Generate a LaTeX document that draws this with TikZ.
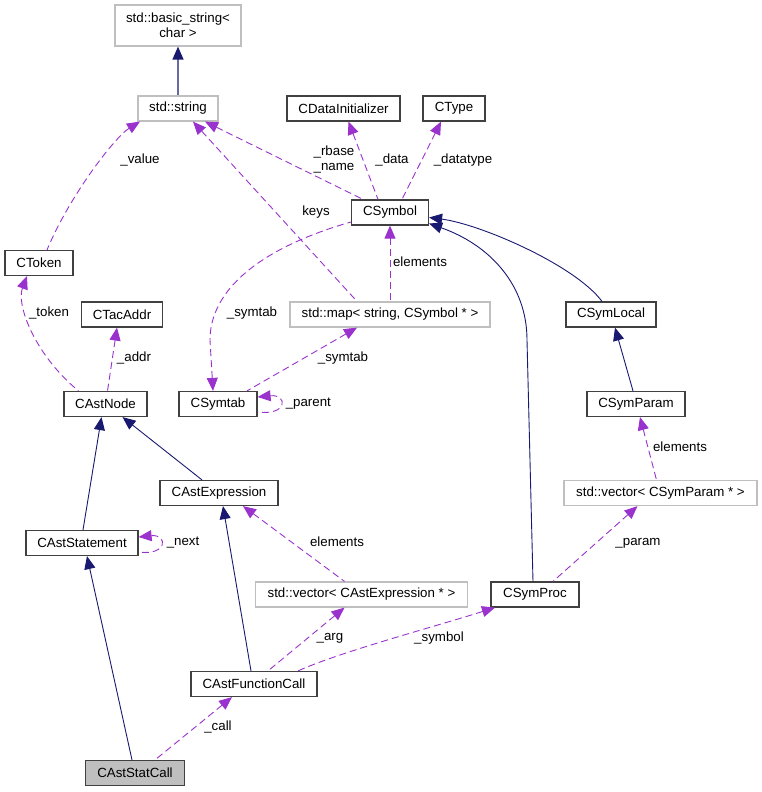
\documentclass[tikz,border=0pt]{standalone}
\usepackage{fontspec}
\setmainfont{Liberation Sans}
\usetikzlibrary{arrows.meta,positioning}
\definecolor{dxnavy}{HTML}{191970}
\definecolor{dxpurple}{HTML}{9A32CD}
\tikzset{box/.style={draw=black!75,line width=1.2pt,fill=white,minimum height=25pt,inner sep=0pt,font=\fontsize{13.3}{15}\selectfont},
  ext/.style={box,draw=black!25}}

\begin{document}
\begin{tikzpicture}[x=1pt,y=-1pt]
\tikzstyle{inh}=[dxnavy,line width=0.9pt,{Triangle[length=13pt,width=11pt]}-]
\tikzstyle{tmpl}=[dxnavy!65,line width=1.2pt,{Triangle[length=13pt,width=11pt,color=dxnavy]}-]
\tikzstyle{use}=[dxpurple,line width=0.9pt,dash pattern=on 7pt off 4pt,{Triangle[length=13pt,width=11pt]}-]
\tikzstyle{lbl}=[font=\fontsize{13.3}{15}\selectfont,inner sep=0pt,align=center]

\useasboundingbox (0,0) rectangle (762,792);

   \path (178,25.5) node[ext,minimum width=126pt,minimum height=41pt,align=center] (bstr) {std::basic\_string<\\char >}
    (178,108.5) node[ext,minimum width=80pt] (str) {std::string}
    (343.5,108.5) node[box,minimum width=113pt] (cdi) {CDataInitializer}
    (454,108.5) node[box,minimum width=62pt] (ctype) {CType}
    (390,212.5) node[box,minimum width=77pt] (sym) {CSymbol}
    (39,263) node[box,minimum width=68pt] (tok) {CToken}
    (122,314.5) node[box,minimum width=81pt] (tac) {CTacAddr}
    (390,314.5) node[ext,minimum width=200pt] (map) {std::map< string, CSymbol * >}
    (611,314.5) node[box,minimum width=90pt] (loc) {CSymLocal};

   \path (105.5,404) node[box,minimum width=83pt] (anode) {CAstNode}
    (218,404) node[box,minimum width=78pt] (stab) {CSymtab}
    (636,404) node[box,minimum width=98pt] (par) {CSymParam}
    (219,493) node[box,minimum width=118pt] (expr) {CAstExpression}
    (660.5,493) node[ext,minimum width=193pt] (vpar) {std::vector< CSymParam * >}
    (82,543) node[box,minimum width=112pt] (stmt) {CAstStatement}
    (361.5,594.5) node[ext,minimum width=212pt] (vexp) {std::vector< CAstExpression * >}
    (535,594.5) node[box,minimum width=88pt] (proc) {CSymProc}
    (254,684) node[box,minimum width=126pt] (fc) {CAstFunctionCall}
    (135,773) node[box,minimum width=99pt,fill=black!25] (call) {CAstStatCall};

    % inheritance
    \draw[tmpl] (bstr) -- (str);
    \draw[inh] ([yshift=-5pt]sym.east) .. controls (480,224) and (575,265) .. ([xshift=-9pt]loc.north);
    \draw[inh] ([yshift=-11pt]sym.east) .. controls (490,245) and (527,285) .. (527,340) -- ([xshift=-2pt]proc.north);
    \draw[inh] ([xshift=-4pt]anode.south) -- ([xshift=1pt]stmt.north);
    \draw[inh] ([xshift=17pt]anode.south) -- ([xshift=-17pt]expr.north);
    \draw[inh] ([xshift=4pt]loc.south) -- ([xshift=-3pt]par.north);
    \draw[inh] ([xshift=4pt]expr.south) -- ([xshift=-3pt]fc.north);
    \draw[inh] ([xshift=5pt]stmt.south) -- ([xshift=-3pt]call.north);

    % members
    \draw[use] ([xshift=-38pt]str.south) .. controls (115,137) and (70,195) .. ([xshift=8pt]tok.north);
    \draw[use] ([xshift=27pt]str.south) -- ([xshift=-27pt]sym.north);
    \draw[use] ([xshift=15pt]str.south) -- ([xshift=-33pt]map.north);
    \draw[use] ([xshift=5pt]cdi.south) -- ([xshift=-12pt]sym.north);
    \draw[use] ([xshift=-13pt]ctype.south) -- ([xshift=12pt]sym.north);
    \draw[use] ([xshift=-5pt]stab.north) -- (210,340) .. controls (210,290) and (260,248) .. ([yshift=-9.5pt]sym.west);
    \draw[use] (sym.south) -- (map.north);
    \draw[use] ([xshift=-33pt]map.south) -- ([xshift=29pt]stab.north);
    \draw[use] ([yshift=7pt]stab.east) .. controls (288,394) and (288,416) .. ([yshift=-8pt]stab.east);
    \draw[use] ([xshift=-12pt]tok.south) .. controls (16,305) and (35,355) .. ([xshift=-27pt]anode.north);
    \draw[use] ([xshift=-5pt]tac.south) -- ([xshift=2pt]anode.north);
    \draw[use] ([xshift=4pt]par.south) -- ([xshift=-4pt]vpar.north);
    \draw[use] ([yshift=6pt]stmt.east) .. controls (168,534) and (168,556) .. ([yshift=-9pt]stmt.east);
    \draw[use] ([xshift=24pt]expr.south) -- ([xshift=-17pt]vexp.north);
    \draw[use] ([xshift=-23pt]vpar.south) -- ([xshift=18pt]proc.north);
    \draw[use] ([xshift=-17pt]vexp.south) -- ([xshift=14pt]fc.north);
    \draw[use] ([xshift=-40pt]proc.south) .. controls (430,628) and (340,652) .. ([xshift=44pt]fc.north);
    \draw[use] ([xshift=-22pt]fc.south) -- ([xshift=20pt]call.north);

    \node[lbl] (lvalue) at (140,160) {\_value};
    \node[lbl] (lname) at (334,160) {\_rbase\\\_name};
    \node[lbl] (lkeys) at (316,212) {keys};
    \node[lbl] (ldata) at (392,160) {\_data};
    \node[lbl] (ltype) at (463,160) {\_datatype};
    \node[lbl] (lelem) at (420,262) {elements};
    \node[lbl] (lsymtab) at (252,313) {\_symtab};
    \node[lbl] (lsymtabb) at (343,358) {\_symtab};
    \node[lbl, right=28pt of stab] (lparent) {\_parent};
    \node[lbl] (ltoken) at (49,313) {\_token};
    \node[lbl] (laddr) at (134,358) {\_addr};
    \node[lbl] (lelemb) at (680,447) {elements};
    \node[lbl, right=28pt of stmt] (lnext) {\_next};
    \node[lbl] (lelemc) at (337,542) {elements};
    \node[lbl] (lparam) at (638,543) {\_param};
    \node[lbl] (larg) at (330,638) {\_arg};
    \node[lbl] (lsymbol) at (439,638) {\_symbol};
    \node[lbl] (lcall) at (218,727) {\_call};
\end{tikzpicture}
\end{document}
